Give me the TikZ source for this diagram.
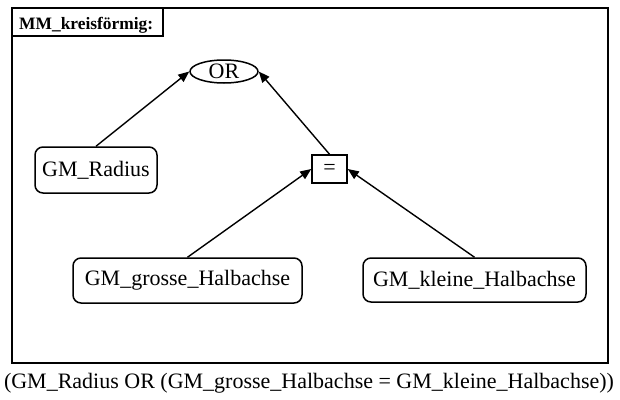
\documentclass[tikz,border=0pt]{standalone}
\usepackage{fontspec}
\setmainfont{Liberation Serif}
\usetikzlibrary{arrows.meta,shapes.geometric}
\begin{document}
\begin{tikzpicture}[x=1pt,y=-1pt,
  every node/.style={font=\fontsize{22}{26}\selectfont, inner sep=0pt, align=center},
  rbox/.style={draw, line width=1.5pt, rounded corners=8pt},
  sqbox/.style={draw, line width=1.5pt},
  ovl/.style={draw, ellipse, line width=1.5pt},
  conn/.style={line width=1.4pt, -{Triangle[length=11pt,width=9pt]}}
]
\useasboundingbox (0,0) rectangle (620,399);
\draw[line width=1.8pt] (12,8) rectangle (608,363);
\draw[line width=1.3pt] (12,8) rectangle (163,36);
\node[anchor=base west, font=\fontsize{17.4}{20}\selectfont\bfseries] (title) at (19,29) {MM\_kreisförmig:};

\node[ovl, minimum width=68pt, minimum height=23pt] (or) at (224,71.5) {OR};
\node[rbox, minimum width=122pt, minimum height=46pt] (rad) at (96,170) {GM\_Radius};
\node[sqbox, minimum width=35pt, minimum height=28pt] (eq) at (329.5,169) {=};
\node[rbox, minimum width=229pt, minimum height=45pt] (gr) at (187.5,280.5) {GM\_grosse\_Halbachse};
\node[rbox, minimum width=223pt, minimum height=44pt] (kl) at (474.5,280) {GM\_kleine\_Halbachse};

\draw[conn] (rad.north) -- (or.west);
\draw[conn] (eq.north) -- (or.east);
\draw[conn] (gr.north) -- (eq.west);
\draw[conn] (kl.north) -- (eq.east);

\node[anchor=base] (cap) at (309,388) {(GM\_Radius OR (GM\_grosse\_Halbachse = GM\_kleine\_Halbachse))};
\end{tikzpicture}
\end{document}
